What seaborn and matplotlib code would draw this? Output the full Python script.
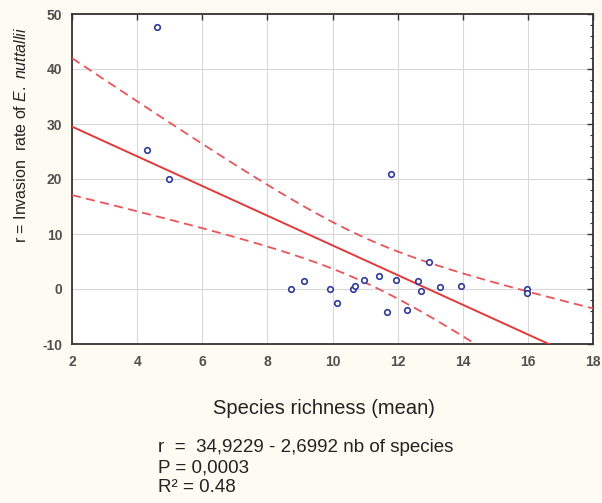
import numpy as np
import pandas as pd
import matplotlib
matplotlib.use("Agg")
import matplotlib.pyplot as plt
from matplotlib.ticker import MultipleLocator
import seaborn as sns

# ---- data ----
species_richness = [4.31, 4.62, 4.97, 8.73, 9.11, 9.93, 10.15, 10.64, 10.68, 10.98,
                    11.44, 11.66, 11.80, 11.96, 12.29, 12.64, 12.73, 12.97, 13.29,
                    13.94, 15.98, 15.98]
invasion_rate = [25.2, 47.6, 20.0, 0.0, 1.5, 0.0, -2.5, 0.0, 0.6, 1.7,
                 2.4, -4.1, 20.9, 1.7, -3.9, 1.4, -0.4, 5.0, 0.3,
                 0.5, 0.0, -0.7]
intercept = 34.9229
slope = -2.6992
x_ticks = [2, 4, 6, 8, 10, 12, 14, 16, 18]
y_ticks = [-10, 0, 10, 20, 30, 40, 50]
eq_lines = ["r  =  34,9229 - 2,6992 nb of species", "P = 0,0003", "R\u00b2 = 0.48"]

df = pd.DataFrame({"x": species_richness, "y": invasion_rate})

# regression line and 95% confidence band of the mean
xs = np.linspace(2, 18, 200)
fit = intercept + slope * xs
x = df["x"].to_numpy(); y = df["y"].to_numpy()
n = len(x)
resid = y - (intercept + slope * x)
s = np.sqrt(np.sum(resid ** 2) / (n - 2))
sxx = np.sum((x - x.mean()) ** 2)
t_crit = 2.086
half = t_crit * s * np.sqrt(1.0 / n + (xs - x.mean()) ** 2 / sxx)
band = pd.DataFrame({"x": xs, "fit": fit, "lo": fit - half, "hi": fit + half})

sns.set_theme(style="white")
plt.rcParams["font.family"] = ["Liberation Sans", "DejaVu Sans"]
plt.rcParams["mathtext.fontset"] = "custom"
plt.rcParams["mathtext.rm"] = "Liberation Sans"
plt.rcParams["mathtext.it"] = "Liberation Sans:italic"

fig = plt.figure(figsize=(6.02, 5.03), dpi=100, facecolor="#fdfbf2")
ax = fig.add_axes([72 / 602, 1 - 344 / 503, 521 / 602, 330 / 503])
ax.set_facecolor("white")

ax.grid(True, color="#d8d8d8", linewidth=0.8, zorder=0)
sns.lineplot(data=band, x="x", y="fit", ax=ax, color="#e03a3a", linewidth=1.4, zorder=3)
sns.lineplot(data=band, x="x", y="hi", ax=ax, color="#e8555a", linewidth=1.3,
             linestyle=(0, (5, 3)), zorder=3)
sns.lineplot(data=band, x="x", y="lo", ax=ax, color="#e8555a", linewidth=1.3,
             linestyle=(0, (5, 3)), zorder=3)
sns.scatterplot(data=df, x="x", y="y", ax=ax, marker="o", s=16, facecolor="white",
                edgecolor="#2f3a9a", linewidth=1.2, zorder=4)

ax.set_xlim(2, 18)
ax.set_ylim(-10, 50)
ax.set_xticks(x_ticks)
ax.set_yticks(y_ticks)
ax.set_xticklabels([str(v) for v in x_ticks])
ax.set_yticklabels([str(v) for v in y_ticks])
ax.yaxis.set_minor_locator(MultipleLocator(2))
ax.tick_params(which="both", direction="in", top=True, right=True, color="#333333")
ax.tick_params(which="major", length=4, width=1, labelsize=10, labelcolor="#505050")
ax.tick_params(axis="x", which="major", pad=8)
ax.tick_params(axis="y", which="major", pad=7)
ax.tick_params(which="minor", length=2.5, width=0.8)
for lab in ax.get_xticklabels() + ax.get_yticklabels():
    lab.set_fontweight("bold")
for sp in ax.spines.values():
    sp.set_color("#333333")
    sp.set_linewidth(1.3)

ax.set_xlabel("")
ax.set_ylabel("")
fig.text(21 / 602, 1 - 135 / 503, "r = Invasion  rate of $\\it{E.\\ nuttallii}$",
         rotation=90, ha="center", va="center", fontsize=11.5, color="#222222")
fig.text(324 / 602, 1 - 409 / 503, "Species richness (mean)", ha="center", va="center",
         fontsize=14.5, color="#222222")
eq_y = [447, 468, 488]
for line, yy in zip(eq_lines, eq_y):
    fig.text(158 / 602, 1 - yy / 503, line, ha="left", va="center",
             fontsize=13.5, color="#222222")

fig.savefig("out.png", dpi=100, facecolor=fig.get_facecolor())
